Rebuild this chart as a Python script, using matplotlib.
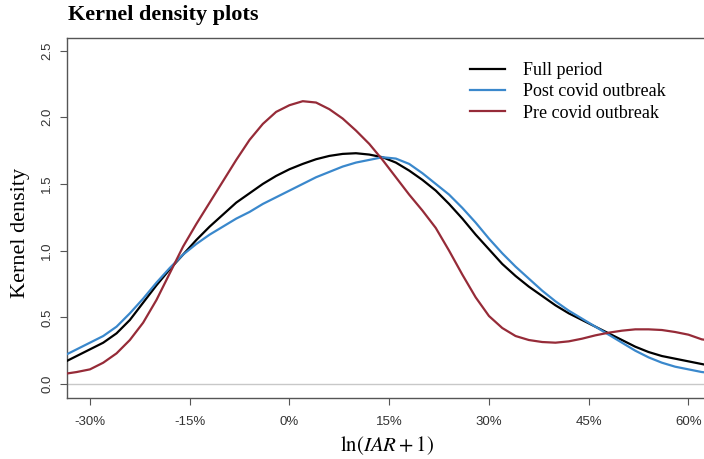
import matplotlib
matplotlib.use('Agg')
import matplotlib.pyplot as plt

plt.rcParams['mathtext.fontset'] = 'stix'

# values (x in %, kernel density)
x_pct = [-34, -32, -30, -28, -26, -24, -22, -20, -18, -16, -14, -12, -10, -8, -6,
         -4, -2, 0, 2, 4, 6, 8, 10, 12, 14, 16, 18, 20, 22, 24, 26, 28, 30, 32,
         34, 36, 38, 40, 42, 44, 46, 48, 50, 52, 54, 56, 58, 60, 62, 64]

full_period = [0.16, 0.21, 0.26, 0.31, 0.38, 0.48, 0.61, 0.74, 0.86, 0.97, 1.08,
               1.18, 1.27, 1.36, 1.43, 1.50, 1.56, 1.61, 1.65, 1.685, 1.71, 1.725,
               1.73, 1.72, 1.70, 1.66, 1.60, 1.53, 1.45, 1.35, 1.24, 1.12, 1.01,
               0.90, 0.81, 0.73, 0.66, 0.59, 0.53, 0.48, 0.43, 0.38, 0.33, 0.28,
               0.24, 0.21, 0.19, 0.17, 0.15, 0.13]

post_covid = [0.21, 0.26, 0.31, 0.36, 0.43, 0.53, 0.64, 0.76, 0.87, 0.97, 1.05,
              1.12, 1.18, 1.24, 1.29, 1.35, 1.40, 1.45, 1.50, 1.55, 1.59, 1.63,
              1.66, 1.68, 1.70, 1.69, 1.65, 1.58, 1.50, 1.42, 1.32, 1.21, 1.09,
              0.98, 0.88, 0.79, 0.70, 0.62, 0.55, 0.49, 0.43, 0.37, 0.31, 0.25,
              0.20, 0.16, 0.13, 0.11, 0.09, 0.08]

pre_covid = [0.075, 0.09, 0.11, 0.16, 0.23, 0.33, 0.46, 0.63, 0.83, 1.03, 1.20,
             1.36, 1.52, 1.68, 1.83, 1.95, 2.04, 2.09, 2.12, 2.11, 2.06, 1.99,
             1.90, 1.80, 1.68, 1.55, 1.42, 1.30, 1.17, 1.00, 0.82, 0.65, 0.51,
             0.42, 0.36, 0.33, 0.315, 0.31, 0.32, 0.34, 0.365, 0.385, 0.40, 0.41,
             0.41, 0.405, 0.39, 0.37, 0.335, 0.32]

series_names = ['Full period', 'Post covid outbreak', 'Pre covid outbreak']
series_colors = ['#000000', '#3a88cc', '#962b38']

x_ticks = [-30, -15, 0, 15, 30, 45, 60]
x_tick_labels = ['-30%', '-15%', '0%', '15%', '30%', '45%', '60%']
y_ticks = [0.0, 0.5, 1.0, 1.5, 2.0, 2.5]

fig = plt.figure(figsize=(7.04, 4.59), dpi=100)
ax = fig.add_axes([0.0947, 0.1322, 0.9163, 0.7851])

ax.axhline(0, color='#c8c8c8', lw=1.0, zorder=1)

for vals, name, col in zip([full_period, post_covid, pre_covid], series_names, series_colors):
    ax.plot(x_pct, vals, color=col, lw=1.6, label=name, zorder=3)

ax.set_xlim(-33.5, 63.5)
ax.set_ylim(-0.107, 2.594)

ax.set_xticks(x_ticks)
ax.set_xticklabels(x_tick_labels, fontsize=9.5, family='Liberation Sans', color='#333333')
ax.set_yticks(y_ticks)
ax.set_yticklabels(['%.1f' % v for v in y_ticks], fontsize=9.5, family='Liberation Sans',
                   color='#333333', rotation=90, va='center')
ax.tick_params(direction='out', length=5.2, width=0.8, color='#555555')
ax.tick_params(axis='x', pad=7.5)
ax.tick_params(axis='y', pad=4.5)

for s in ax.spines.values():
    s.set_color('#555555')
    s.set_linewidth(1.0)

ax.set_ylabel('Kernel density', fontsize=16, family='Liberation Serif', va='center')
ax.yaxis.set_label_coords(-0.071, 0.46)
ax.set_xlabel(r'$\ln(IAR+1)$', fontsize=15, va='center')
ax.xaxis.set_label_coords(0.4966, -0.132)

ax.legend(loc='upper left', bbox_to_anchor=(470 / 704, 1 - 62 / 459),
          bbox_transform=fig.transFigure, frameon=False,
          prop={'family': 'Liberation Serif', 'size': 13}, handlelength=1.94,
          handletextpad=1.0, labelspacing=0.24, borderpad=0, borderaxespad=0)

fig.text(68 / 704, 1 - 15 / 459, 'Kernel density plots', fontsize=16,
         family='Liberation Serif', weight='bold', va='center', ha='left')

fig.savefig('out.png', dpi=100)
